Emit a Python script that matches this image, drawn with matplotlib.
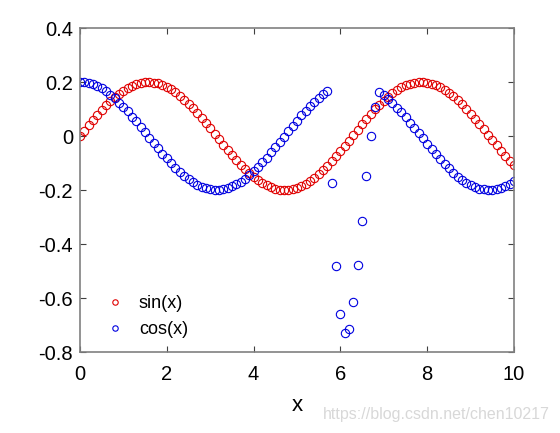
import numpy as np
import matplotlib.pyplot as plt

plt.rcParams['font.family'] = ['Liberation Sans', 'DejaVu Sans']

# x positions of the samples (0 to 10, step 0.1)
x = np.linspace(0, 10, 101)

# red series
sin_vals = [0.000, 0.020, 0.040, 0.059, 0.078, 0.096, 0.113, 0.129, 0.143, 0.157,
            0.168, 0.178, 0.186, 0.193, 0.197, 0.200, 0.200, 0.198, 0.195, 0.189,
            0.182, 0.173, 0.162, 0.149, 0.135, 0.120, 0.103, 0.085, 0.067, 0.048,
            0.028, 0.008, -0.012, -0.032, -0.051, -0.070, -0.089, -0.106, -0.122, -0.138,
            -0.151, -0.164, -0.174, -0.183, -0.190, -0.196, -0.199, -0.200, -0.199, -0.197,
            -0.192, -0.185, -0.177, -0.166, -0.155, -0.141, -0.126, -0.110, -0.093, -0.075,
            -0.056, -0.036, -0.017, 0.003, 0.023, 0.043, 0.062, 0.081, 0.099, 0.116,
            0.131, 0.146, 0.159, 0.170, 0.180, 0.188, 0.194, 0.198, 0.200, 0.200,
            0.198, 0.194, 0.188, 0.180, 0.171, 0.160, 0.147, 0.133, 0.117, 0.100,
            0.082, 0.064, 0.045, 0.025, 0.005, -0.015, -0.035, -0.054, -0.073, -0.092,
            -0.109]

# blue series (note the dip between 5.8 and 6.8)
cos_vals = [0.200, 0.199, 0.196, 0.191, 0.184, 0.176, 0.165, 0.153, 0.139, 0.124,
            0.108, 0.091, 0.072, 0.054, 0.034, 0.014, -0.006, -0.026, -0.045, -0.065,
            -0.083, -0.101, -0.118, -0.133, -0.147, -0.160, -0.171, -0.181, -0.188, -0.194,
            -0.198, -0.200, -0.200, -0.198, -0.193, -0.187, -0.179, -0.170, -0.158, -0.145,
            -0.131, -0.115, -0.098, -0.080, -0.061, -0.042, -0.022, -0.002, 0.018, 0.037,
            0.057, 0.076, 0.094, 0.111, 0.127, 0.142, 0.155, 0.167, -0.173, -0.483,
            -0.660, -0.728, -0.716, -0.613, -0.478, -0.314, -0.148, 0.000, 0.107, 0.163,
            0.151, 0.137, 0.122, 0.105, 0.088, 0.069, 0.050, 0.031, 0.011, -0.009,
            -0.029, -0.049, -0.068, -0.086, -0.104, -0.120, -0.136, -0.150, -0.162, -0.173,
            -0.182, -0.190, -0.195, -0.198, -0.200, -0.199, -0.197, -0.192, -0.186, -0.178,
            -0.168]

spine_color = '#808080'

fig = plt.figure(figsize=(5.6, 4.33), dpi=100)
ax = fig.add_axes([80 / 560, 81 / 433, 434 / 560, 324 / 433])

ax.plot(x, sin_vals, 'o', color='#e00000', markerfacecolor='none',
        markersize=6, markeredgewidth=0.8, label='sin(x)')
ax.plot(x, cos_vals, 'o', color='#0000e0', markerfacecolor='none',
        markersize=6, markeredgewidth=0.8, label='cos(x)')

ax.set_xlim(0, 10)
ax.set_ylim(-0.8, 0.4)
ax.set_xticks([0, 2, 4, 6, 8, 10])
ax.set_yticks([-0.8, -0.6, -0.4, -0.2, 0, 0.2, 0.4])
ax.set_yticklabels(['-0.8', '-0.6', '-0.4', '-0.2', '0', '0.2', '0.4'])
ax.set_xlabel('x', fontsize=16, labelpad=8)

ax.tick_params(direction='in', top=True, right=True, length=4, width=0.8,
               color='#404040', labelsize=14.5)
ax.tick_params(axis='x', pad=9)
ax.tick_params(axis='y', pad=5)
for spine in ax.spines.values():
    spine.set_edgecolor(spine_color)
    spine.set_linewidth(1.2)

leg = ax.legend(loc='lower left', bbox_to_anchor=(0.044, 0.02), frameon=False,
                fontsize=13, handlelength=1.0, handletextpad=0.8,
                labelspacing=0.5, borderaxespad=0, markerscale=0.65)

fig.text(0.982, 18 / 433, 'https://blog.csdn.net/chen10217', ha='right', va='center',
         fontsize=11.5, color='#d8d8d8')

fig.savefig('out.png', dpi=100)
